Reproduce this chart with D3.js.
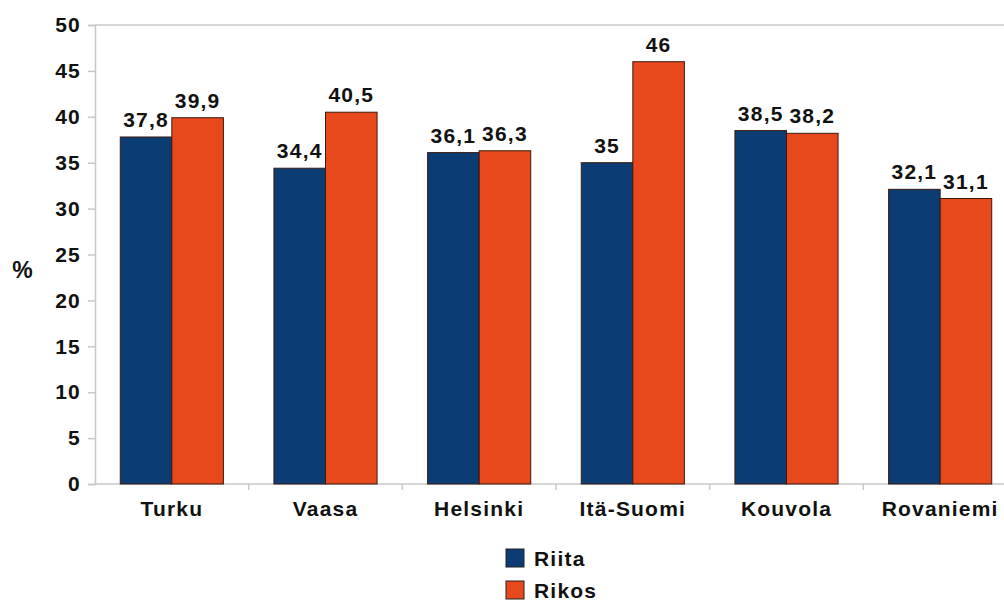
<!DOCTYPE html>
<html>
<head>
<meta charset="utf-8">
<script src="https://cdn.jsdelivr.net/npm/d3@7"></script>
<style>
  body { margin: 0; background: white; }
  svg { font-family: "Liberation Sans", Arial, sans-serif; font-weight: bold; }
  svg text { letter-spacing: 1.2px; }
</style>
</head>
<body>
<div id="chart"></div>
<script>
// Chart data
const categories = ["Turku", "Vaasa", "Helsinki", "Itä-Suomi", "Kouvola", "Rovaniemi"];
const seriesNames = ["Riita", "Rikos"];
const riita = [37.8, 34.4, 36.1, 35, 38.5, 32.1];
const rikos = [39.9, 40.5, 36.3, 46, 38.2, 31.1];
const yTicks = [0, 5, 10, 15, 20, 25, 30, 35, 40, 45, 50];
const colors = ["#0b3d74", "#e8491c"];

const width = 1004, height = 601;

const svg = d3.select("#chart")
    .append("svg")
    .attr("width", width)
    .attr("height", height);

// Scales
const x = d3.scaleBand()
    .domain(categories)
    .range([95, 1017])
    .paddingInner(0)
    .paddingOuter(0);

const xInner = d3.scaleBand()
    .domain(seriesNames)
    .range([0, x.bandwidth()])
    .paddingInner(0)
    .paddingOuter(0.49);

const y = d3.scaleLinear()
    .domain([0, 50])
    .range([484, 25]);

// Top border line
svg.append("line")
    .attr("x1", 95).attr("x2", width)
    .attr("y1", y(50)).attr("y2", y(50))
    .attr("stroke", "#c8c8c8")
    .attr("stroke-width", 1.5);

// Y axis
svg.append("g")
    .attr("transform", "translate(95,0)")
    .call(d3.axisLeft(y).tickValues(yTicks).tickSize(7).tickPadding(7).tickFormat(d3.format("d")))
    .call(g => g.select(".domain").attr("stroke", "#c8c8c8").attr("stroke-width", 1.5))
    .call(g => g.selectAll(".tick line").attr("stroke", "#c8c8c8").attr("stroke-width", 1.5))
    .call(g => g.selectAll(".tick text")
        .attr("fill", "#111")
        .style("font-size", "21px")
        .style("font-weight", "bold")
        .style("font-family", "'Liberation Sans', Arial, sans-serif"));

// X axis
const xAxis = svg.append("g")
    .attr("transform", `translate(0,${y(0)})`);

xAxis.append("line")
    .attr("x1", 95).attr("x2", width)
    .attr("y1", 0).attr("y2", 0)
    .attr("stroke", "#c8c8c8")
    .attr("stroke-width", 1.5);

// Category boundary ticks
xAxis.selectAll(".ctick")
    .data(categories.slice(1))
    .enter()
    .append("line")
    .attr("x1", d => x(d)).attr("x2", d => x(d))
    .attr("y1", 0).attr("y2", 6)
    .attr("stroke", "#c8c8c8")
    .attr("stroke-width", 1.5);

xAxis.selectAll(".clabel")
    .data(categories)
    .enter()
    .append("text")
    .attr("x", d => x(d) + x.bandwidth() / 2)
    .attr("y", 32)
    .attr("text-anchor", "middle")
    .attr("fill", "#111")
    .style("font-size", "21px")
    .text(d => d);

// Y axis title
svg.append("text")
    .attr("x", 23)
    .attr("y", 278)
    .attr("text-anchor", "middle")
    .attr("fill", "#111")
    .style("font-size", "23px")
    .text("%");

// Bars
const groups = svg.selectAll(".grp")
    .data(categories)
    .enter()
    .append("g")
    .attr("transform", d => `translate(${x(d)},0)`);

const seriesValues = [riita, rikos];

seriesNames.forEach((name, si) => {
    groups.append("rect")
        .attr("x", xInner(name))
        .attr("y", (d, i) => y(seriesValues[si][i]))
        .attr("width", xInner.bandwidth())
        .attr("height", (d, i) => y(0) - y(seriesValues[si][i]))
        .attr("fill", colors[si])
        .attr("stroke", "#3a1a10")
        .attr("stroke-width", 1);

    groups.append("text")
        .attr("x", xInner(name) + xInner.bandwidth() / 2)
        .attr("y", (d, i) => y(seriesValues[si][i]) - 10)
        .attr("text-anchor", "middle")
        .attr("fill", "#111")
        .style("font-size", "21px")
        .text((d, i) => String(seriesValues[si][i]).replace(".", ","));
});

// Legend
const legend = svg.append("g")
    .attr("transform", "translate(506,549)");

seriesNames.forEach((name, i) => {
    const row = legend.append("g")
        .attr("transform", `translate(0,${i * 32})`);
    row.append("rect")
        .attr("width", 18)
        .attr("height", 18)
        .attr("fill", colors[i])
        .attr("stroke", "#222")
        .attr("stroke-width", 1);
    row.append("text")
        .attr("x", 28)
        .attr("y", 17)
        .attr("fill", "#111")
        .style("font-size", "21px")
        .text(name);
});
</script>
</body>
</html>
